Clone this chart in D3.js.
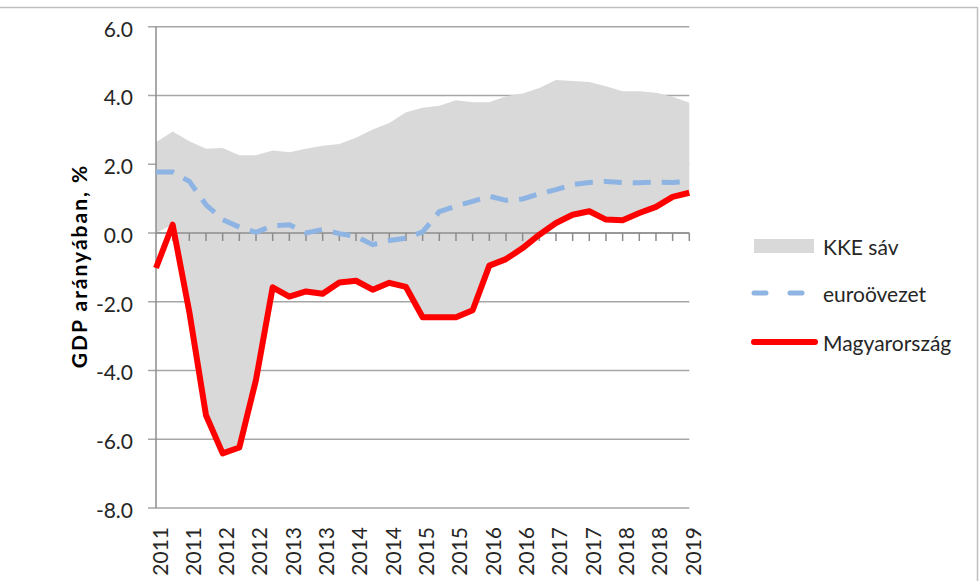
<!DOCTYPE html>
<html><head><meta charset="utf-8">
<script src="https://cdn.jsdelivr.net/npm/d3@7"></script>
<style>
html,body{margin:0;padding:0;background:#fff;}
svg{display:block;font-family:Lato,"Open Sans",sans-serif;}
</style></head>
<body><svg id="c" width="980" height="581"></svg>
<script>
// Quarterly data, 2011 Q1 – 2019 Q1
const quarters = d3.range(33).map(i => `${2011 + Math.floor(i/4)} Q${i%4+1}`);
const tickLabels = ["2011","2011","2012","2012","2013","2013","2014","2014","2015","2015","2016","2016","2017","2017","2018","2018","2019"];
const yTicks = [6,4,2,0,-2,-4,-6,-8];
const hungary = [-1.02,0.24,-2.3,-5.30,-6.41,-6.24,-4.27,-1.58,-1.85,-1.70,-1.77,-1.44,-1.39,-1.65,-1.45,-1.57,-2.45,-2.45,-2.45,-2.25,-0.95,-0.76,-0.44,-0.05,0.29,0.53,0.63,0.39,0.37,0.58,0.76,1.05,1.17];
const euro = [1.77,1.77,1.50,0.82,0.39,0.17,0.02,0.21,0.24,0.0,0.1,-0.02,-0.1,-0.34,-0.22,-0.15,0.03,0.62,0.78,0.92,1.07,0.95,0.99,1.14,1.26,1.41,1.47,1.50,1.47,1.46,1.48,1.47,1.50];
const bandHigh = [2.64,2.95,2.67,2.45,2.47,2.26,2.26,2.40,2.35,2.45,2.54,2.59,2.77,3.01,3.20,3.51,3.64,3.70,3.86,3.80,3.80,3.98,4.06,4.22,4.45,4.42,4.39,4.27,4.12,4.12,4.08,3.96,3.79];
const bandLow = [0.0,0.24,-2.3,-5.30,-6.41,-6.24,-4.27,-1.58,-1.85,-1.70,-1.77,-1.44,-1.39,-1.65,-1.45,-1.57,-2.45,-2.45,-2.45,-2.25,-0.95,-0.76,-0.44,-0.05,0.29,0.53,0.63,0.39,0.37,0.58,0.76,1.05,1.17];
const seriesNames = ["KKE sáv","euroövezet","Magyarország"];
const yTitle = "GDP arányában, %";

const svg = d3.select("#c");
const L = 156, R = 689.3, T = 26.7, B = 508;
const x = d3.scalePoint().domain(quarters).range([L, R]);
const y = d3.scaleLinear().domain([-8, 6]).range([B, T]);
const gridCol = "#a6a6a6", axisCol = "#8c8c8c";

// outer frame
svg.append("path").attr("d","M0,7.5H977.5V581").attr("fill","none").attr("stroke","#bfbfbf").attr("stroke-width",1.5);

// gridlines
svg.append("g").selectAll("line").data(yTicks).join("line")
  .attr("x1", L-8).attr("x2", R).attr("y1", d=>y(d)).attr("y2", d=>y(d))
  .attr("stroke", gridCol).attr("stroke-width", 1.5);

// band
const band = quarters.map((q,i)=>({q, lo: bandLow[i], hi: bandHigh[i]}));
svg.append("path").datum(band)
  .attr("d", d3.area().x(d=>x(d.q)).y0(d=>y(d.lo)).y1(d=>y(d.hi)))
  .attr("fill", "#d9d9d9");

// y axis
svg.append("line").attr("x1",L).attr("x2",L).attr("y1",T).attr("y2",B).attr("stroke",axisCol).attr("stroke-width",1.5);
svg.append("g").selectAll("text").data(yTicks).join("text")
  .attr("x", 133).attr("y", d=>y(d)+1.5).attr("text-anchor","end").attr("dominant-baseline","central")
  .attr("font-size", 21).attr("fill","#262626").text(d=>d.toFixed(1));

// category axis at zero
svg.append("line").attr("x1",L).attr("x2",R).attr("y1",y(0)).attr("y2",y(0)).attr("stroke",axisCol).attr("stroke-width",1.5);
svg.append("g").selectAll("line").data(quarters.slice(1)).join("line")
  .attr("x1", d=>x(d)).attr("x2", d=>x(d)).attr("y1", y(0)).attr("y2", y(0)+8)
  .attr("stroke", axisCol).attr("stroke-width", 1.5);

// x labels
svg.append("g").selectAll("text").data(tickLabels).join("text")
  .attr("transform",(d,i)=>`translate(${x(quarters[i*2])+3},527) rotate(-90)`)
  .attr("text-anchor","end").attr("dominant-baseline","central")
  .attr("font-size", 21).attr("fill","#262626").text(d=>d);

// lines
const line = d3.line().x((d,i)=>x(quarters[i])).y(d=>y(d));
svg.append("path").datum(euro).attr("d", line).attr("fill","none")
  .attr("stroke","#8db4e2").attr("stroke-width",5).attr("stroke-dasharray","18,11");
svg.append("path").datum(hungary).attr("d", line).attr("fill","none")
  .attr("stroke","#ff0000").attr("stroke-width",6).attr("stroke-linejoin","round");

// y title
svg.append("text").attr("transform","translate(78,266) rotate(-90)")
  .attr("text-anchor","middle").attr("dominant-baseline","central")
  .attr("font-size",21).attr("font-weight","bold").attr("letter-spacing",2).attr("fill","#000").text(yTitle);

// legend
const lg = svg.append("g");
lg.append("rect").attr("x",754).attr("y",239).attr("width",60).attr("height",14).attr("fill","#d9d9d9");
lg.append("line").attr("x1",754).attr("x2",814).attr("y1",293).attr("y2",293)
  .attr("stroke","#8db4e2").attr("stroke-width",5).attr("stroke-dasharray","12,24").attr("stroke-linecap","round");
lg.append("line").attr("x1",754).attr("x2",815).attr("y1",342).attr("y2",342)
  .attr("stroke","#ff0000").attr("stroke-width",6).attr("stroke-linecap","round");
lg.selectAll("text").data(seriesNames).join("text")
  .attr("x",823).attr("y",(d,i)=>[246,293,342][i]).attr("dominant-baseline","central")
  .attr("font-size",21).attr("fill","#262626").text(d=>d);
</script></body></html>
